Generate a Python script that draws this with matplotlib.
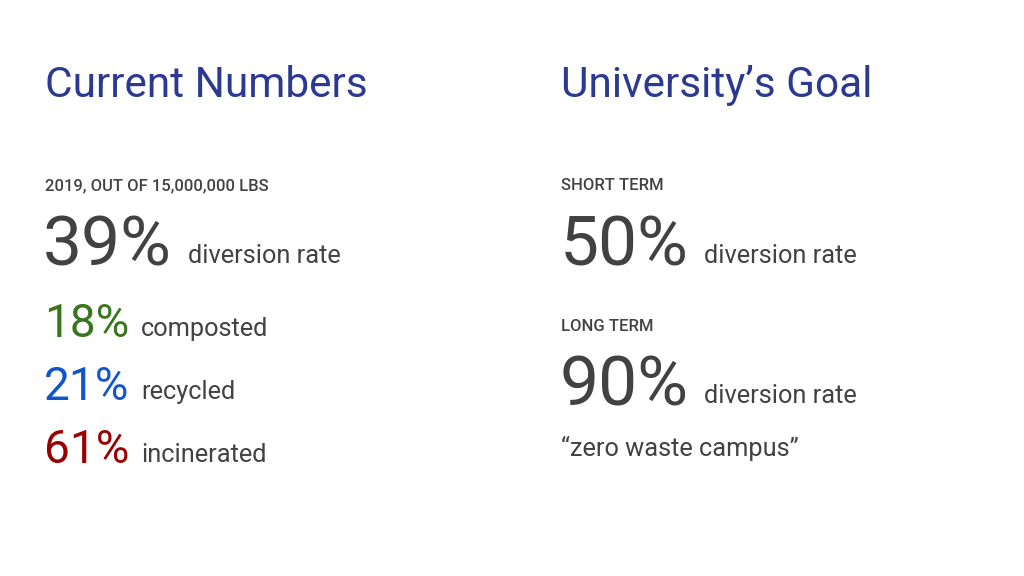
import matplotlib.pyplot as plt

# slide content
titles = ["Current Numbers", "University\u2019s Goal"]
left_caption = "2019, OUT OF 15,000,000 LBS"
total_rate = "39%"
rate_label = "diversion rate"
parts = ["18%", "21%", "61%"]
part_labels = ["composted", "recycled", "incinerated"]
part_colors = ["#38761d", "#1155cc", "#990000"]
goal_captions = ["SHORT TERM", "LONG TERM"]
goal_rates = ["50%", "90%"]
goal_quote = "\u201czero waste campus\u201d"

plt.rcParams['font.family'] = ['Roboto', 'DejaVu Sans']
dark = "#424242"
navy = "#2b3990"

fig = plt.figure(figsize=(10.24, 5.76), dpi=100)
ax = fig.add_axes([0, 0, 1, 1])
ax.set_xlim(0, 1024)
ax.set_ylim(576, 0)
ax.axis("off")

# titles
ax.text(45, 97, titles[0], fontsize=30.5, color=navy, va="baseline")
ax.text(561, 97, titles[1], fontsize=30.5, color=navy, va="baseline")

# left column
ax.text(45, 190, left_caption, fontsize=12, color=dark, va="baseline", fontweight="medium")
ax.text(43, 265, total_rate, fontsize=50, color=dark, va="baseline")
ax.text(188, 263, rate_label, fontsize=18.3, color=dark, va="baseline")

part_y = [337, 400, 463]
for pct, lab, col, y in zip(parts, part_labels, part_colors, part_y):
    ax.text(44, y, pct, fontsize=33, color=col, va="baseline")
    ax.text(141, y - 1, lab, fontsize=18.3, color=dark, va="baseline")

# right column
cap_y = [190, 331]
rate_y = [265, 405]
for cap, rate, cy, ry in zip(goal_captions, goal_rates, cap_y, rate_y):
    ax.text(561, cy, cap, fontsize=12, color=dark, va="baseline", fontweight="medium")
    ax.text(560, ry, rate, fontsize=50, color=dark, va="baseline")
    ax.text(704, ry - 2, rate_label, fontsize=18.3, color=dark, va="baseline")

ax.text(561, 456, goal_quote, fontsize=18.3, color=dark, va="baseline")

fig.savefig("out.png", dpi=100, facecolor="white")
